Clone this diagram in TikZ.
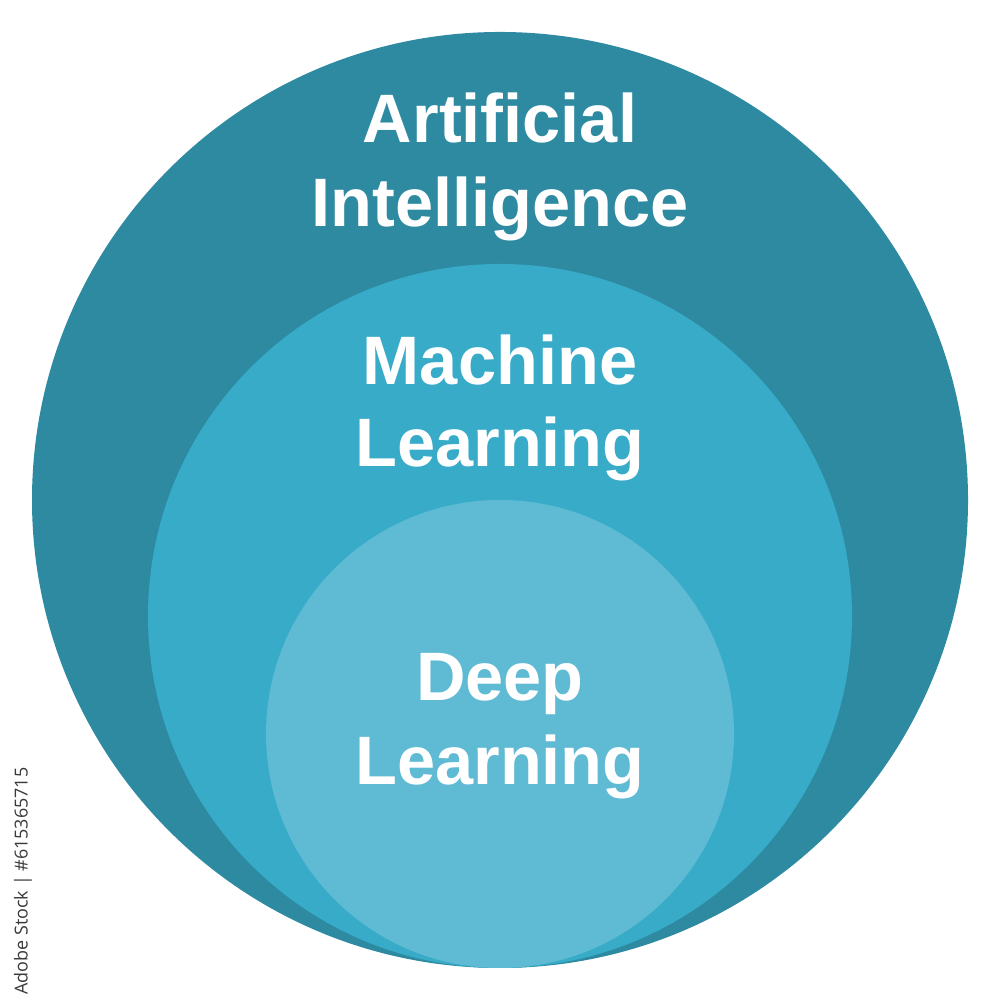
\documentclass[tikz,border=0pt]{standalone}
\usepackage{fontspec}
\setmainfont{Liberation Sans}
\newfontfamily\markfont{Open Sans}
\definecolor{aicol}{HTML}{2D8AA1}
\definecolor{mlcol}{HTML}{37ABC8}
\definecolor{dlcol}{HTML}{5FBAD4}
\definecolor{markcol}{HTML}{3A3A3A}
\tikzset{
  lbl/.style={text=white, font=\fontsize{19.5pt}{23.5pt}\selectfont\bfseries, anchor=base, inner sep=0pt},
  disc/.style={circle, draw=none}
}
\begin{document}
\begin{tikzpicture}
\useasboundingbox (0,0) rectangle (10,10);
\fill[white] (0,0) rectangle (10,10);
\node[disc, fill=aicol, minimum size=9.36cm] (ai) at (5,5) {};
\node[disc, fill=mlcol, minimum size=7.04cm] (ml) at (5,3.84) {};
\node[disc, fill=dlcol, minimum size=4.68cm] (dl) at (5,2.66) {};
\node[lbl] (ai1) at (5,8.57) {Artificial};
\node[lbl] (ai2) at (5,7.73) {Intelligence};
\node[lbl] (ml1) at (5,6.15) {Machine};
\node[lbl] (ml2) at (5,5.33) {Learning};
\node[lbl] (dl1) at (5,2.99) {Deep};
\node[lbl] (dl2) at (5,2.15) {Learning};
\node[rotate=90, text=markcol, font=\markfont\fontsize{5.1pt}{6pt}\selectfont, inner sep=0pt] (mark) at (0.23,1.19) {Adobe Stock | \#615365715};
\end{tikzpicture}
\end{document}
